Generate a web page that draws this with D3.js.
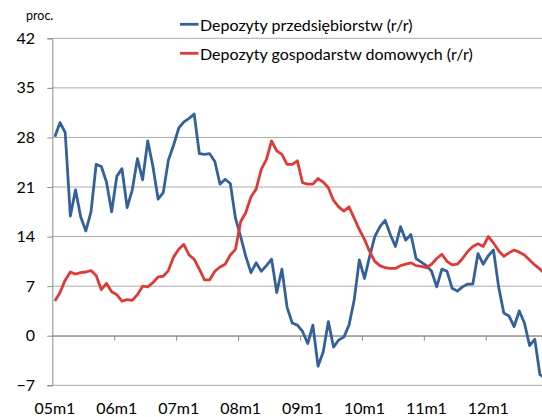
<!DOCTYPE html>
<html>
<head>
<meta charset="utf-8">
<script src="https://cdn.jsdelivr.net/npm/d3@7"></script>
<style>
    body { margin: 0; background: #fff; }
    svg { display: block; overflow: hidden; font-family: Lato, "Open Sans", sans-serif; }
</style>
</head>
<body>
<svg id="viz"></svg>
<script>
// ---------------------------
// Data
// ---------------------------

const years = ["05", "06", "07", "08", "09", "10", "11", "12"];

const months = [];
years.forEach(yr => { for (let m = 1; m <= 12; m++) months.push(yr + "m" + m); });

const seriesNames = ["Depozyty przedsiębiorstw (r/r)", "Depozyty gospodarstw domowych (r/r)"];

// Depozyty przedsiębiorstw (r/r)
const firms = [
    28.1, 30.1, 28.7, 16.9, 20.6, 16.8, 14.8, 17.5, 24.2, 23.9, 21.7, 17.5,
    22.5, 23.6, 18.1, 20.6, 25.0, 22.0, 27.5, 23.9, 19.3, 20.2, 24.8, 26.9,
    29.3, 30.2, 30.7, 31.3, 25.7, 25.6, 25.7, 24.6, 21.4, 22.1, 21.5, 16.6,
    14.0, 11.2, 8.9, 10.3, 9.1, 9.9, 10.8, 6.1, 9.4, 4.0, 1.8, 1.5,
    0.6, -1.1, 1.5, -4.3, -2.3, 2.0, -1.6, -0.6, -0.2, 1.5, 5.0, 10.7,
    8.1, 11.2, 14.0, 15.4, 16.3, 14.3, 12.6, 15.4, 13.5, 14.3, 10.9, 10.4,
    9.9, 9.1, 6.9, 9.4, 9.1, 6.7, 6.3, 6.9, 7.3, 7.3, 11.6, 10.1,
    11.3, 12.1, 6.9, 3.2, 2.8, 1.3, 3.5, 1.8, -1.4, -0.5, -5.5, -6.0
];

// Depozyty gospodarstw domowych (r/r)
const households = [
    4.9, 6.1, 7.85, 9.0, 8.7, 8.9, 9.0, 9.2, 8.5, 6.5, 7.4, 6.2,
    5.8, 4.9, 5.1, 5.0, 5.8, 7.0, 6.9, 7.5, 8.3, 8.4, 9.2, 11.1,
    12.2, 12.9, 11.4, 10.8, 9.4, 7.9, 7.9, 9.1, 9.7, 10.1, 11.4, 12.2,
    16.1, 17.4, 19.6, 20.7, 23.5, 24.9, 27.5, 26.1, 25.6, 24.2, 24.2, 24.7,
    21.6, 21.4, 21.4, 22.2, 21.7, 20.9, 19.1, 18.2, 17.6, 18.2, 16.6, 15.0,
    13.6, 11.9, 10.5, 9.9, 9.6, 9.5, 9.5, 9.9, 10.1, 10.3, 9.9, 9.8,
    9.6, 10.1, 10.9, 11.5, 10.5, 10.0, 10.1, 10.9, 11.9, 12.6, 13.0, 12.6,
    14.0, 13.1, 12.0, 11.2, 11.7, 12.1, 11.8, 11.4, 10.7, 10.0, 9.4, 8.7
];

const yTicks = [-7, 0, 7, 14, 21, 28, 35, 42];

const colors = ["#33619b", "#de3b37"];

// ---------------------------
// Create SVG
// ---------------------------

const width = 542;
const height = 417;

const plotLeft = 52.3;
const plotTop = 38.3;
const plotBottom = 385.3;
const monthStep = 5.16;

const svg = d3.select("#viz")
    .attr("width", width)
    .attr("height", height)
    .attr("viewBox", `0 0 ${width} ${height}`);

const x = d3.scaleBand()
    .domain(months)
    .range([plotLeft, plotLeft + months.length * monthStep])
    .padding(0);

const xIdx = d3.scaleLinear()
    .domain([0, months.length])
    .range([plotLeft, plotLeft + months.length * monthStep]);

const y = d3.scaleLinear()
    .domain([-7, 42])
    .range([plotBottom, plotTop]);

// gridlines
svg.append("g")
    .selectAll("line")
    .data(yTicks)
    .join("line")
    .attr("x1", plotLeft)
    .attr("x2", xIdx(months.length))
    .attr("y1", d => y(d))
    .attr("y2", d => y(d))
    .attr("stroke", "#ababab")
    .attr("stroke-width", 1);

// y axis
const yAxis = svg.append("g")
    .attr("transform", `translate(${plotLeft},0)`)
    .call(d3.axisLeft(y).tickValues(yTicks).tickSize(5).tickPadding(12.3));

yAxis.select(".domain").attr("stroke", "#8c8c8c");
yAxis.selectAll(".tick line").attr("stroke", "#8c8c8c");
yAxis.selectAll(".tick text")
    .attr("font-size", 16)
    .attr("fill", "#000")
    .style("font-family", "Lato, sans-serif");

// x axis line at zero with yearly ticks
const xAxis = svg.append("g")
    .attr("transform", `translate(0,${y(0)})`)
    .call(d3.axisBottom(xIdx)
        .tickValues(d3.range(12, months.length, 12))
        .tickFormat("")
        .tickSize(5)
        .tickSizeOuter(0));

xAxis.select(".domain").attr("stroke", "#8c8c8c");
xAxis.selectAll(".tick line").attr("stroke", "#8c8c8c");

// x labels at the bottom
const xLabels = svg.append("g")
    .attr("transform", `translate(0,${plotBottom})`)
    .call(d3.axisBottom(x)
        .tickValues(months.filter((d, i) => i % 12 === 0))
        .tickSize(0)
        .tickPadding(17.7));

xLabels.select(".domain").remove();
xLabels.selectAll(".tick text")
    .attr("font-size", 16)
    .attr("fill", "#000")
    .style("font-family", "Lato, sans-serif");

// "proc." label
svg.append("text")
    .attr("x", 26)
    .attr("y", 20)
    .attr("font-size", 12.5)
    .attr("fill", "#000")
    .text("proc.");

// ---------------------------
// Lines
// ---------------------------

const line = d3.line()
    .x((d, i) => x(months[i]) + x.bandwidth() / 2)
    .y(d => y(d));

[firms, households].forEach((series, k) => {
    svg.append("path")
        .datum(series)
        .attr("fill", "none")
        .attr("stroke", colors[k])
        .attr("stroke-width", 2.8)
        .attr("stroke-linejoin", "round")
        .attr("d", line);
});

// ---------------------------
// Legend
// ---------------------------

const legend = svg.append("g");

seriesNames.forEach((name, k) => {
    const ly = 24.3 + k * 29;
    legend.append("line")
        .attr("x1", 180)
        .attr("x2", 198.5)
        .attr("y1", ly)
        .attr("y2", ly)
        .attr("stroke", colors[k])
        .attr("stroke-width", 2.8);
    legend.append("text")
        .attr("x", 200)
        .attr("y", ly + 6.3)
        .attr("font-size", 16)
        .attr("fill", "#000")
        .text(name);
});
</script>
</body>
</html>
